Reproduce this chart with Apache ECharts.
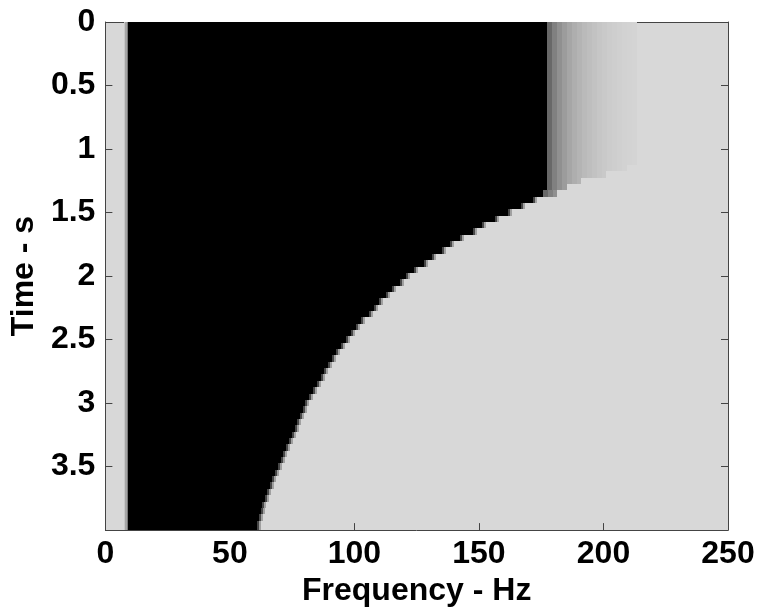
<!DOCTYPE html>
<html>
<head>
<meta charset="utf-8">
<title>Spectrogram</title>
<script src="https://cdn.jsdelivr.net/npm/echarts@6/dist/echarts.min.js"></script>
<style>
  html, body { margin: 0; padding: 0; background: #fff; }
  #chart { width: 759px; height: 612px; }
</style>
</head>
<body>
<div id="chart"></div>
<script>
// axis ticks
const freqTicks = [0, 50, 100, 150, 200, 250]
const timeTicks = [0, 0.5, 1, 1.5, 2, 2.5, 3, 3.5]
const timeMax = 4

// time rows are centred on multiples of timeStep
const timeStep = 0.05

// where the black band ends (Hz), one value per time row
const edgeHz = [
  177.5, 177.5, 177.5, 177.5, 177.5, 177.5, 177.5, 177.5, 177.5, 177.5,
  177.5, 177.5, 177.5, 177.5, 177.5, 177.5, 177.5, 177.5, 177.5, 177.5,
  177.5, 177.5, 177.5, 177.5, 177.5, 177.5, 177.5, 175.8, 171.9, 166.7,
  161.6, 156.6, 151.3, 147.6, 142.4, 138.5, 135.3, 131.0, 128.0, 124.1,
  120.9, 118.2, 115.2, 112.5, 110.0, 107.8, 105.7, 102.8, 100.5, 98.5,
  96.7, 94.7, 92.6, 90.8, 89.5, 87.9, 86.5, 84.8, 83.2, 81.6,
  80.3, 79.2, 78.0, 76.9, 76.0, 74.9, 73.7, 72.7, 71.4, 70.4,
  69.4, 68.2, 67.1, 66.2, 64.9, 63.9, 63.0, 62.5, 61.6, 60.9,
  60.7,
]

// top rows: the roll-off band after the edge fades out here (Hz)
const plateauFadeEndHz = [
  213.6, 213.6, 213.6, 213.6, 213.6, 213.6, 213.6, 213.6, 213.6, 213.6,
  213.6, 213.6, 213.6, 213.6, 213.6, 213.6, 213.6, 213.6, 213.6, 213.6,
  213.6, 213.6, 213.6, 209.6, 201.0, 191.0, 185.5, 181.5,
]
// grey levels of the roll-off bins
const fadeLevels = [104, 128, 144, 156, 166, 174, 180, 186, 190, 194, 198, 201, 204, 206, 208, 210, 211, 212]
const fadeBinHz = 2

// lower rows: short soft step after the edge
const edgeFadeLevels = [70, 160]
const edgeFadeBinHz = 0.8

// low frequency grey strip, then a soft step into black
const lowCutHz = 7.5
const lowFadeLevels = [200, 165, 120]
const lowFadeBinHz = 0.5

const backgroundGrey = 216

// build cells [f0, f1, t0, t1, grey]
const cells = []
edgeHz.forEach((edge, i) => {
  const t0 = Math.max(0, i * timeStep - timeStep / 2)
  const t1 = Math.min(timeMax, i * timeStep + timeStep / 2)
  let f = lowCutHz
  lowFadeLevels.forEach((g) => {
    cells.push([f, f + lowFadeBinHz, t0, t1, g])
    f += lowFadeBinHz
  })
  cells.push([f, edge, t0, t1, 0])
  f = edge
  if (i < plateauFadeEndHz.length) {
    const fe = plateauFadeEndHz[i]
    for (const g of fadeLevels) {
      if (f >= fe) break
      cells.push([f, Math.min(f + fadeBinHz, fe), t0, t1, g])
      f += fadeBinHz
    }
  } else {
    edgeFadeLevels.forEach((g) => {
      cells.push([f, f + edgeFadeBinHz, t0, t1, g])
      f += edgeFadeBinHz
    })
  }
})

const frameColor = '#444'
const labelFont = {
  color: '#000',
  fontSize: 32,
  fontWeight: 'bold',
  fontFamily: 'Liberation Sans, Arial, sans-serif',
}

function frameAxis(extra) {
  return Object.assign({
    type: 'value',
    axisLine: { show: true, onZero: false, lineStyle: { color: frameColor, width: 1 } },
    axisTick: { show: true, inside: true, length: 7, lineStyle: { color: frameColor, width: 1 } },
    splitLine: { show: false },
  }, extra)
}

const xRange = {
  min: freqTicks[0],
  max: freqTicks[freqTicks.length - 1],
  interval: freqTicks[1] - freqTicks[0],
}
const yRange = {
  min: timeTicks[0],
  max: timeMax,
  interval: timeTicks[1] - timeTicks[0],
  inverse: true,
}

const chart = echarts.init(document.getElementById('chart'), null, { renderer: 'canvas' })

chart.setOption({
  animation: false,
  backgroundColor: '#fff',
  grid: {
    left: 92, top: 22, width: 636, height: 517,
    show: true, backgroundColor: `rgb(${backgroundGrey},${backgroundGrey},${backgroundGrey})`, borderWidth: 0,
  },
  xAxis: [
    frameAxis({
      ...xRange,
      position: 'bottom',
      axisLabel: { ...labelFont, margin: 8 },
      name: 'Frequency - Hz',
      nameLocation: 'middle',
      nameGap: 36,
      nameTextStyle: labelFont,
    }),
    frameAxis({ ...xRange, position: 'top', axisLabel: { show: false } }),
  ],
  yAxis: [
    frameAxis({
      ...yRange,
      position: 'left',
      axisLabel: { ...labelFont, margin: 10, showMaxLabel: false },
      name: 'Time - s',
      nameLocation: 'middle',
      nameGap: 57,
      nameTextStyle: labelFont,
    }),
    frameAxis({ ...yRange, position: 'right', axisLabel: { show: false } }),
  ],
  series: [
    {
      type: 'custom',
      silent: true,
      encode: { x: [0, 1], y: [2, 3] },
      data: cells,
      renderItem(params, api) {
        const p0 = api.coord([api.value(0), api.value(2)])
        const p1 = api.coord([api.value(1), api.value(3)])
        const g = api.value(4)
        const cs = params.coordSys
        // snap to whole pixels so neighbouring cells meet without seams
        const x0 = Math.round(Math.min(p0[0], p1[0]))
        const x1 = Math.round(Math.max(p0[0], p1[0]))
        const y0 = Math.round(Math.min(p0[1], p1[1]))
        const y1 = Math.round(Math.max(p0[1], p1[1]))
        const shape = echarts.graphic.clipRectByRect(
          { x: x0, y: y0, width: x1 - x0, height: y1 - y0 },
          { x: cs.x, y: cs.y, width: cs.width, height: cs.height }
        )
        return shape && {
          type: 'rect',
          shape,
          style: { fill: `rgb(${g},${g},${g})` },
        }
      },
    },
  ],
})
</script>
</body>
</html>
